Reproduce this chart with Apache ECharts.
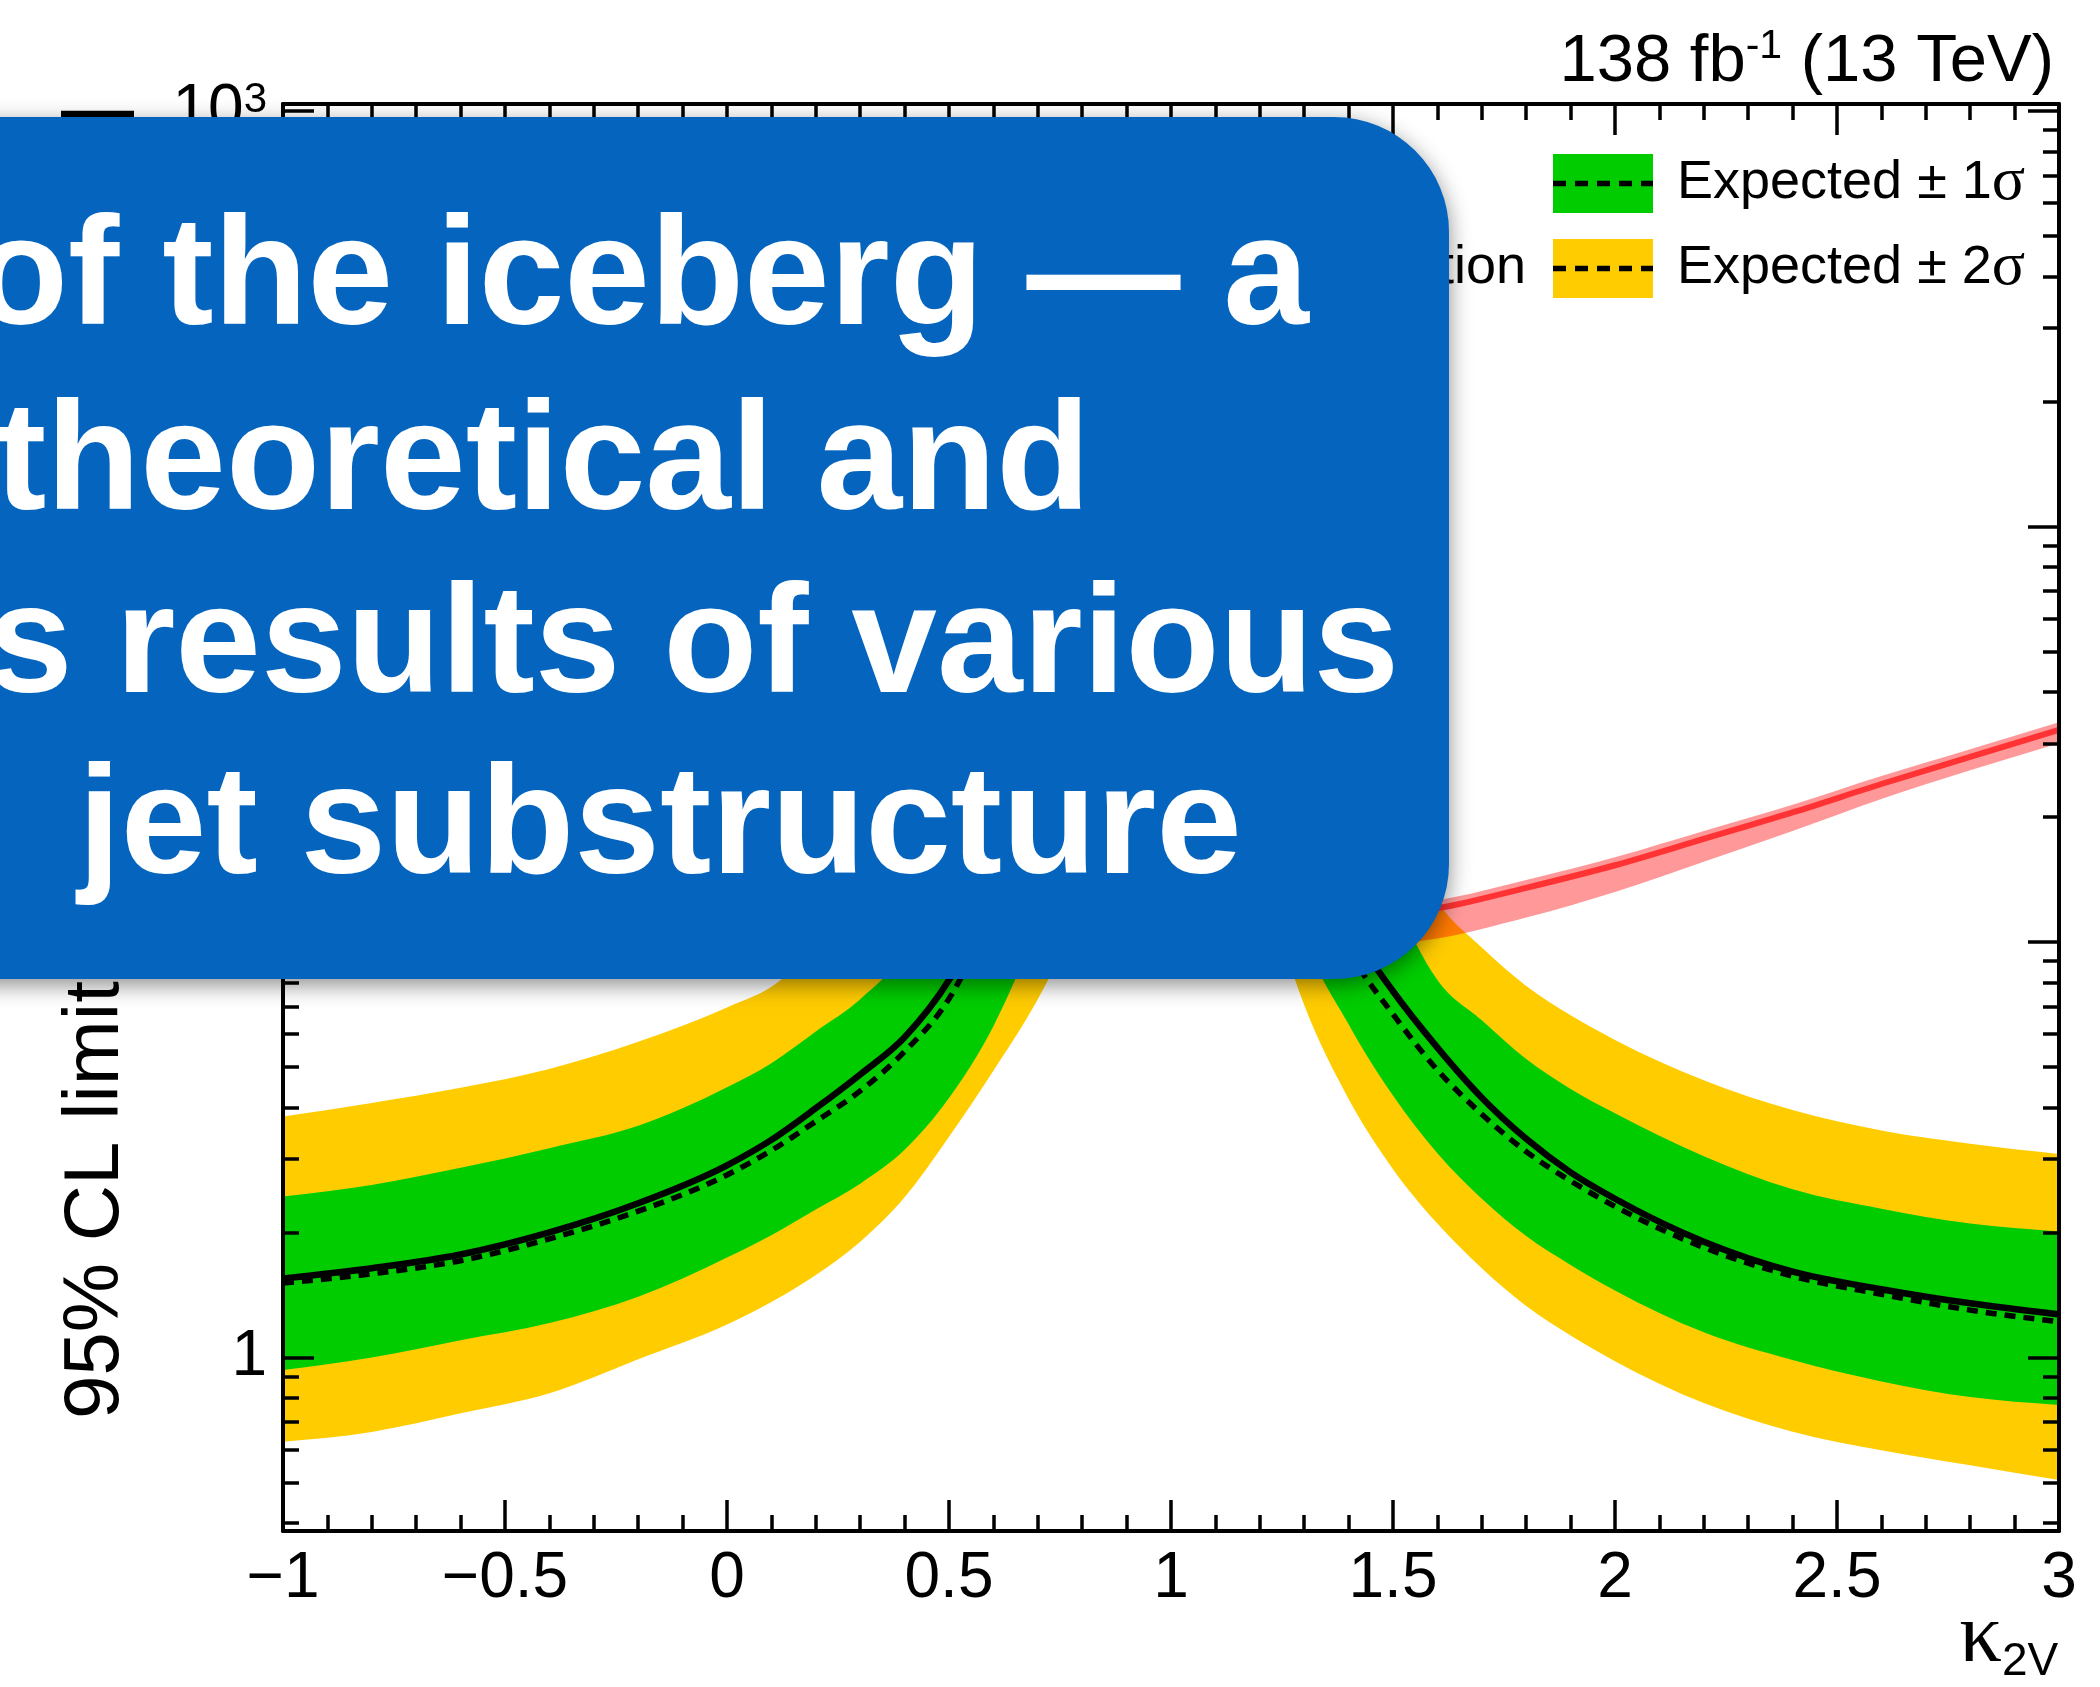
<!DOCTYPE html>
<html>
<head>
<meta charset="utf-8">
<script src="https://cdn.jsdelivr.net/npm/echarts@6/dist/echarts.min.js"></script>
<style>
html,body{margin:0;padding:0;background:#ffffff;}
#chart{width:2100px;height:1687px;}
</style>
</head>
<body>
<div id="chart"></div>
<script>
// ---------------- data ----------------
const kappa2V = [-1, -0.8, -0.6, -0.4, -0.2, 0, 0.1, 0.2, 0.3, 0.4, 0.5, 0.6, 0.7, 0.8, 0.9, 1.0,
                 1.1, 1.2, 1.3, 1.4, 1.5, 1.6, 1.7, 1.8, 1.9, 2.0, 2.2, 2.4, 2.6, 2.8, 3.0];
const observed = [1.55, 1.64, 1.77, 2.00, 2.35, 2.90, 3.34, 3.98, 4.80, 5.90, 8.1, 13, 24, 50, 100, 150,
                  110, 40, 18, 11, 7.61, 5.57, 4.22, 3.36, 2.79, 2.41, 1.90, 1.61, 1.46, 1.35, 1.27];
const expected = [1.51, 1.59, 1.71, 1.93, 2.25, 2.75, 3.15, 3.70, 4.38, 5.45, 7.3, 12, 22, 45, 90, 135,
                  100, 35, 15.5, 9.5, 6.70, 4.92, 3.85, 3.13, 2.66, 2.31, 1.84, 1.57, 1.42, 1.30, 1.22];
const exp1Up = [2.44, 2.60, 2.86, 3.19, 3.61, 4.47, 5.11, 6.09, 7.28, 9.5, 16, 28, 55, 110, 200, 300,
                280, 140, 55, 25, 13, 8.1, 6.48, 5.23, 4.43, 3.87, 3.05, 2.54, 2.28, 2.10, 2.01];
const exp1Down = [0.933, 1.00, 1.10, 1.21, 1.40, 1.74, 1.97, 2.27, 2.62, 3.16, 4.21, 6.27, 11, 22, 45, 70,
                  65, 30, 10.5, 6.34, 4.27, 3.10, 2.41, 1.96, 1.67, 1.45, 1.15, 0.986, 0.876, 0.803, 0.769];
const exp2Up = [3.80, 4.10, 4.46, 4.95, 5.75, 6.96, 7.8, 9.6, 12.5, 17, 25, 40, 75, 150, 300, 450,
                430, 250, 100, 42, 20, 12.5, 9.7, 7.84, 6.66, 5.81, 4.65, 3.94, 3.52, 3.27, 3.09];
const exp2Down = [0.627, 0.662, 0.734, 0.82, 0.99, 1.20, 1.36, 1.58, 1.90, 2.43, 3.4, 4.9, 7.28, 12, 22, 35,
                  33, 15, 7.05, 4.19, 2.84, 2.10, 1.64, 1.33, 1.13, 0.98, 0.777, 0.663, 0.598, 0.55, 0.507];

const theoryKappa = [-1, -0.5, 0, 0.5, 1.0, 1.2, 1.4, 1.6, 1.8, 2.0, 2.2, 2.4, 2.6, 2.8, 3.0];
const theory     = [150, 75, 36, 18, 12.0, 11.4, 11.5, 12.05, 13.5, 15.3, 17.7, 20.5, 24.0, 27.9, 32.4];
const theoryDown = [128, 64, 30.6, 15.3, 10.2, 9.7, 9.75, 10.2, 11.45, 13.2, 15.6, 18.5, 22.1, 25.9, 30.1];
const theoryUp   = [157, 78, 37.6, 18.8, 12.5, 11.9, 12.0, 12.6, 14.1, 16.0, 18.5, 21.4, 25.1, 29.1, 33.8];

const yMajorTicks = [1, 10, 100, 1000];
const yMinorTicks = [0.4, 0.5, 0.6, 0.7, 0.8, 0.9, 2, 3, 4, 5, 6, 7, 8, 9,
                     20, 30, 40, 50, 60, 70, 80, 90, 200, 300, 400, 500, 600, 700, 800, 900];

const legendLabels = ['Observed', 'Theoretical prediction', 'Expected \u00b1 1{g|\u03c3}', 'Expected \u00b1 2{g|\u03c3}'];
const overlayLines = ['of the iceberg \u2014 a', 'theoretical and', 's results of various', 'jet substructure'];
const yTitleParts = ['95% CL limit', ' on \u03c3(VBF HH \u2192 bbbb)', ' [fb]'];

// ---------------- drawing helpers ----------------
const FONT = '"Liberation Sans", Arial, Helvetica, sans-serif';
const SERIF = '"Liberation Serif", "DejaVu Serif", serif';
const X_MIN = -1, X_MAX = 3, Y_MIN = 0.3823, Y_MAX = 1039.5;

// monotone cubic segments (pixel space) -> control points for each segment
function monoSegments(pts) {
  const n = pts.length, s = [], t = new Array(n);
  for (let i = 0; i < n - 1; i++) {
    const h = pts[i + 1][0] - pts[i][0];
    s.push(h ? (pts[i + 1][1] - pts[i][1]) / h : 0);
  }
  for (let i = 1; i < n - 1; i++) {
    const h0 = pts[i][0] - pts[i - 1][0], h1 = pts[i + 1][0] - pts[i][0];
    const s0 = s[i - 1], s1 = s[i];
    const p = (s0 * h1 + s1 * h0) / (h0 + h1);
    t[i] = (Math.sign(s0) + Math.sign(s1)) * Math.min(Math.abs(s0), Math.abs(s1), 0.5 * Math.abs(p)) || 0;
  }
  if (n === 2) { t[0] = s[0]; t[1] = s[0]; }
  else { t[0] = (3 * s[0] - t[1]) / 2; t[n - 1] = (3 * s[n - 2] - t[n - 2]) / 2; }
  const segs = [];
  for (let i = 0; i < n - 1; i++) {
    const dx = (pts[i + 1][0] - pts[i][0]) / 3;
    segs.push([[pts[i][0] + dx, pts[i][1] + dx * t[i]], [pts[i + 1][0] - dx, pts[i + 1][1] - dx * t[i + 1]]]);
  }
  return segs;
}
const f2 = v => v.toFixed(2);
function forwardPath(pts, cmd) {
  const segs = monoSegments(pts);
  let d = cmd + f2(pts[0][0]) + ' ' + f2(pts[0][1]);
  segs.forEach((sg, i) => {
    d += ' C' + f2(sg[0][0]) + ' ' + f2(sg[0][1]) + ' ' + f2(sg[1][0]) + ' ' + f2(sg[1][1]) + ' ' +
         f2(pts[i + 1][0]) + ' ' + f2(pts[i + 1][1]);
  });
  return d;
}
function backwardPath(pts) {
  const segs = monoSegments(pts);
  const n = pts.length;
  let d = 'L' + f2(pts[n - 1][0]) + ' ' + f2(pts[n - 1][1]);
  for (let i = n - 2; i >= 0; i--) {
    const sg = segs[i];
    d += ' C' + f2(sg[1][0]) + ' ' + f2(sg[1][1]) + ' ' + f2(sg[0][0]) + ' ' + f2(sg[0][1]) + ' ' +
         f2(pts[i][0]) + ' ' + f2(pts[i][1]);
  }
  return d;
}

function bandSeries(name, xs, lo, hi, color, z) {
  return {
    type: 'custom', name: name, z: z, clip: true, silent: true,
    xAxisIndex: 0, yAxisIndex: 0,
    data: [[xs[0], hi[0]]], encode: { x: 0, y: 1 },
    renderItem: function (params, api) {
      const up = xs.map((x, i) => api.coord([x, hi[i]]));
      const dn = xs.map((x, i) => api.coord([x, lo[i]]));
      const d = forwardPath(up, 'M') + ' ' + backwardPath(dn) + ' Z';
      return { type: 'path', shape: { pathData: d }, style: { fill: color, stroke: 'none' } };
    }
  };
}

function curveSeries(name, xs, ys, style, z) {
  return {
    type: 'custom', name: name, z: z, clip: true, silent: true,
    xAxisIndex: 0, yAxisIndex: 0,
    data: [[xs[0], ys[0]]], encode: { x: 0, y: 1 },
    renderItem: function (params, api) {
      const pts = xs.map((x, i) => api.coord([x, ys[i]]));
      return { type: 'path', shape: { pathData: forwardPath(pts, 'M') },
               style: Object.assign({ fill: 'none' }, style) };
    }
  };
}

const tickStyle = { color: '#000', width: 3.5 };
const lineStyleAxis = { color: '#000', width: 4 };

function xAxisDef(pos, showLabel) {
  return {
    type: 'value', min: X_MIN, max: X_MAX, interval: 0.5, position: pos, z: 10,
    axisLine: { show: true, onZero: false, lineStyle: lineStyleAxis },
    axisTick: { show: true, inside: true, length: 31, lineStyle: tickStyle },
    minorTick: { show: true, splitNumber: 5, length: 16, lineStyle: tickStyle },
    splitLine: { show: false }, minorSplitLine: { show: false },
    axisLabel: {
      show: showLabel, fontSize: 64, fontFamily: FONT, color: '#000', margin: 16,
      showMinLabel: true, showMaxLabel: true,
      formatter: function (v) { const s = String(Math.round(v * 10) / 10); return s.replace('-', '\u2212'); }
    }
  };
}

function yAxisDef(pos, values, len, withLine, showLabel) {
  return {
    type: 'log', logBase: 10, min: Y_MIN, max: Y_MAX, position: pos, z: 10,
    axisLine: { show: withLine, onZero: false, lineStyle: lineStyleAxis },
    axisTick: { show: true, inside: true, length: len, customValues: values, lineStyle: tickStyle },
    minorTick: { show: false },
    splitLine: { show: false },
    axisLabel: {
      show: showLabel, customValues: values, fontSize: 64, fontFamily: FONT, color: '#000', margin: 16,
      lineHeight: 64,
      formatter: function (v) {
        const e = Math.round(Math.log10(v));
        if (e === 0) return '1';
        if (e === 1) return '10';
        return '10{sup|' + e + '}';
      },
      rich: { sup: { fontSize: 42, lineHeight: 34, verticalAlign: 'top', fontFamily: FONT, color: '#000' } }
    }
  };
}

function txt(x, y, text, size, opts) {
  const o = opts || {};
  return {
    type: 'text', x: x, y: y, z: o.z || 20, rotation: o.rotation || 0,
    style: Object.assign({
      text: text, fontSize: size, fontFamily: o.family || FONT, fontWeight: o.weight || 'normal',
      fill: o.fill || '#000', align: o.align || 'left', verticalAlign: 'middle',
      textAlign: o.align || 'left', textVerticalAlign: 'middle'
    }, o.extra || {})
  };
}

// size of the hidden middle part of the y title so that the title spans the measured length
const meas = document.createElement('canvas').getContext('2d');
const Y_TITLE_SIZE = 78, Y_TITLE_LEN = 1314;
meas.font = Y_TITLE_SIZE + 'px ' + FONT;
const wA = meas.measureText(yTitleParts[0]).width, wC = meas.measureText(yTitleParts[2]).width;
const wB = meas.measureText(yTitleParts[1]).width;
const midSize = Math.max(40, Math.min(110, Y_TITLE_SIZE * (Y_TITLE_LEN - wA - wC) / wB));

const legendRich = { g: { fontFamily: SERIF, fontSize: 62, fill: '#000' } };

const chart = echarts.init(document.getElementById('chart'), null, { renderer: 'canvas' });

const option = {
  backgroundColor: '#ffffff',
  animation: false,
  grid: { left: 283, right: 41, top: 104, bottom: 156, containLabel: false, outerBoundsMode: 'none' },
  xAxis: [xAxisDef('bottom', true), xAxisDef('top', false)],
  yAxis: [
    yAxisDef('left', yMajorTicks, 31, true, true),
    yAxisDef('left', yMinorTicks, 16, false, false),
    yAxisDef('right', yMajorTicks, 31, true, false),
    yAxisDef('right', yMinorTicks, 16, false, false)
  ],
  series: [
    bandSeries('Expected \u00b1 2\u03c3', kappa2V, exp2Down, exp2Up, '#ffcc00', 2),
    bandSeries('Expected \u00b1 1\u03c3', kappa2V, exp1Down, exp1Up, '#00cc00', 3),
    bandSeries('Theory band', theoryKappa, theoryDown, theoryUp, 'rgba(255,0,0,0.4)', 4),
    curveSeries('Expected', kappa2V, expected, { stroke: '#000', lineWidth: 5.5, lineDash: [11, 8] }, 5),
    curveSeries('Observed', kappa2V, observed, { stroke: '#000', lineWidth: 6.5 }, 6),
    curveSeries('Theoretical prediction', theoryKappa, theory, { stroke: '#ff3333', lineWidth: 6 }, 7)
  ],
  graphic: {
    elements: [
      // luminosity label
      txt(2054, 63, '138 fb{sup|-1} (13 TeV)', 67, { align: 'right',
        extra: { lineHeight: 74, rich: { sup: { fontSize: 41, lineHeight: 34, verticalAlign: 'top', fontFamily: FONT, fill: '#000' } } } }),
      // legend, right column
      { type: 'rect', z: 20, shape: { x: 1553, y: 154, width: 100, height: 59 }, style: { fill: '#00cc00' } },
      { type: 'line', z: 21, shape: { x1: 1553, y1: 183.5, x2: 1653, y2: 183.5 }, style: { stroke: '#000', lineWidth: 5.5, lineDash: [13, 9] } },
      txt(1677, 183, legendLabels[2], 54, { extra: { rich: legendRich } }),
      { type: 'rect', z: 20, shape: { x: 1553, y: 239, width: 100, height: 59 }, style: { fill: '#ffcc00' } },
      { type: 'line', z: 21, shape: { x1: 1553, y1: 268.5, x2: 1653, y2: 268.5 }, style: { stroke: '#000', lineWidth: 5.5, lineDash: [13, 9] } },
      txt(1677, 268, legendLabels[3], 54, { extra: { rich: legendRich } }),
      // legend, left column (mostly under the overlay)
      { type: 'line', z: 21, shape: { x1: 885, y1: 183.5, x2: 985, y2: 183.5 }, style: { stroke: '#000', lineWidth: 6.5 } },
      txt(1010, 183, legendLabels[0], 54),
      { type: 'rect', z: 20, shape: { x: 885, y: 239, width: 100, height: 59 }, style: { fill: 'rgba(255,0,0,0.4)' } },
      { type: 'line', z: 21, shape: { x1: 885, y1: 268.5, x2: 985, y2: 268.5 }, style: { stroke: '#ff3333', lineWidth: 6 } },
      txt(1526, 268, legendLabels[1], 54, { align: 'right' }),
      // y axis title (reads bottom to top)
      txt(96, 1419, yTitleParts[0] + '{m|' + yTitleParts[1] + '}' + yTitleParts[2], Y_TITLE_SIZE,
          { align: 'left', rotation: Math.PI / 2,
            extra: { rich: { m: { fontSize: midSize, fontFamily: FONT, fill: '#000' } } } }),
      // x axis title
      txt(2002, 1639, '\u03ba', 85, { align: 'right', family: SERIF }),
      txt(2002, 1662, '2V', 46),
      // overlay box
      { type: 'rect', z: 100, shape: { x: -300, y: 117, width: 1749, height: 862, r: 115 },
        style: { fill: '#0565be', shadowBlur: 22, shadowColor: 'rgba(0,0,0,0.45)', shadowOffsetY: 6 } },
      txt(-26, 282, overlayLines[0], 154, { weight: 'bold', fill: '#ffffff', z: 101 }),
      txt(-5, 467, overlayLines[1], 154, { weight: 'bold', fill: '#ffffff', z: 101 }),
      txt(-13, 650, overlayLines[2], 154, { weight: 'bold', fill: '#ffffff', z: 101 }),
      txt(78, 831, overlayLines[3], 154, { weight: 'bold', fill: '#ffffff', z: 101 })
    ]
  }
};

chart.setOption(option);
</script>
</body>
</html>
